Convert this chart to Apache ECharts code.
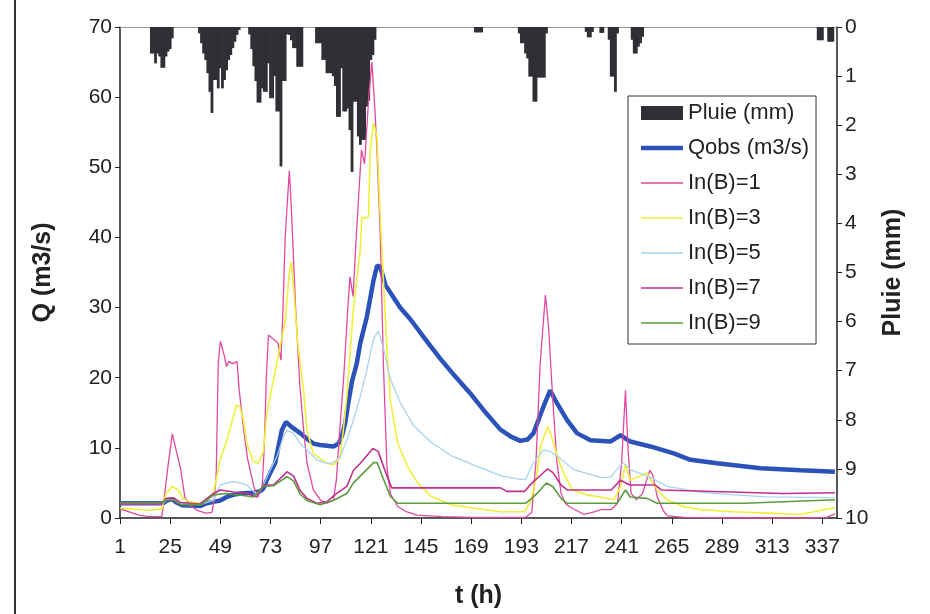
<!DOCTYPE html>
<html>
<head>
<meta charset="utf-8">
<script src="https://cdn.jsdelivr.net/npm/echarts@6/dist/echarts.min.js"></script>
<style>
html,body{margin:0;padding:0;background:#fff;}
#chart{width:930px;height:614px;}
</style>
</head>
<body>
<div id="chart"></div>
<script>
// ---- Data ----
var xTickLabels = [1, 25, 49, 73, 97, 121, 145, 169, 193, 217, 241, 265, 289, 313, 337];

// Rain (mm) per hour: hour index and depth
var rainHours = [
  16,17,18,19,20,21,22,23,24,25,26,
  39,40,41,42,43,44,45,46,47,48,49,50,51,52,53,54,55,56,57,58,
  63,64,65,66,67,68,69,70,71,72,73,74,75,76,77,78,79,80,81,82,83,84,85,86,87,88,
  95,96,97,98,99,100,101,102,103,104,105,106,107,108,109,110,111,112,113,114,115,116,117,118,119,120,121,122,123,
  171,172,173,174,
  192,193,194,195,196,197,198,199,200,201,202,203,204,205,
  224,225,226,227,
  231,232,
  235,236,237,238,239,
  246,247,248,249,250,251,
  335,336,337,340,341,342
];
var rainMm = [
  0.54,0.54,0.74,0.54,0.6,0.83,0.83,0.6,0.5,0.45,0.23,
  0.13,0.33,0.54,0.67,0.94,1.32,1.75,1.08,1.08,1.25,0.84,1.25,1.08,0.88,0.67,0.57,0.43,0.3,0.16,0.06,
  0.15,0.45,0.8,1.1,1.54,1.54,1.25,1.32,1.32,0.74,1.45,1.45,1.0,1.72,1.72,2.84,1.1,1.1,0.15,0.16,0.27,0.43,0.43,0.81,0.81,0.81,
  0.33,0.33,0.33,0.67,0.67,0.94,0.94,0.94,1.0,1.2,1.83,1.83,0.84,1.72,1.72,1.66,2.1,2.95,1.52,1.52,2.23,2.4,2.3,2.3,1.62,1.5,0.67,0.57,0.26,
  0.11,0.11,0.11,0.11,
  0.13,0.33,0.33,0.54,0.64,1.01,1.01,1.52,1.52,1.03,1.03,1.03,1.03,0.13,
  0.1,0.21,0.21,0.1,
  0.12,0.12,
  0.26,1.01,1.01,1.32,0.13,
  0.26,0.54,0.54,0.4,0.33,0.2,
  0.27,0.27,0.27,0.3,0.3,0.3
];

// Observed discharge Qobs (m3/s): [t, Q]
var qobs = [[1,2.1],[21.7,2.1],[23.3,2.5],[26,2.7],[28,2.2],[31,1.8],[39.3,1.7],[42.5,2.1],[45.7,2.3],[48.9,2.5],[52.1,3.0],[55.2,3.3],[58.4,3.5],[64,3.6],[68,3.8],[69.6,4.2],[71.2,5.4],[72.8,6.4],[75.2,7.8],[76.8,10.2],[78.4,12.5],[80.4,13.7],[83,13.0],[87.2,12.1],[90.4,11.3],[93.5,10.6],[96.7,10.4],[103.1,10.2],[105.5,10.6],[107.1,11.6],[108.7,13.5],[110,16],[112,19.5],[114.3,22.1],[116,25],[119.1,28.7],[122.3,33.9],[124,36],[125.5,35.8],[128,33.2],[135,30.0],[140,28.3],[147,25.5],[154,22.8],[161,20.3],[168.5,17.8],[176,15.0],[183,12.6],[188,11.6],[192.5,11.0],[196,11.2],[198.8,12.1],[203.6,15.9],[206.8,18.2],[209.2,16.8],[214.8,14.0],[219.6,12.1],[226,11.1],[235.6,10.9],[240.4,11.8],[245.1,10.9],[254.7,10.2],[265.9,9.2],[273.9,8.3],[286.6,7.8],[307.4,7.1],[326.6,6.8],[343,6.6]];

// Simulated discharges
var lnB1 = [[1,1.3],[5,0.9],[10,0.4],[15,0.2],[21,0.2],[22,2.5],[24,7.5],[26,12],[28,9.5],[30,7],[32,3],[34,1.9],[38,1.1],[42,0.7],[45,0.8],[46,2.5],[47,6],[48,22],[49,25.2],[51,23],[52,21.6],[53,22.3],[55,22],[57,22.3],[58,18.3],[60,13],[62,8.5],[65,4.5],[67,3],[69,4.5],[70,10],[71,20],[72,26.1],[74,25.6],[76.5,25],[78,22.5],[79,30],[80,40],[82,49.5],[83,44],[85,30],[87,19],[89,12],[90.5,7.8],[93.5,4],[97,2.5],[100,2.1],[103,2.5],[104.5,5.4],[106,12],[108,20],[110,30],[111,34.4],[112.5,31.6],[114,40],[116.5,52.5],[118,50.5],[120,60],[121.5,65],[123,58],[124,52],[125.5,40.5],[127,22],[128.7,7.3],[130.3,3.5],[132,2.6],[134,1.6],[138,0.9],[143,0.4],[155,0.2],[170,0.1],[195,0.1],[198,0.8],[200,8],[202,22],[204.5,31.8],[206,27.3],[208,17],[210,8],[212,3.5],[214,2.1],[216,1.6],[223,0.5],[227,0.8],[231,1.2],[236,1.2],[239,2.1],[241,8],[242.8,18.2],[244,10],[245.5,3.5],[248,2.6],[251,3.5],[253,5.5],[254.5,6.8],[256,6],[258,3],[261,1.0],[263,0.3],[271,0.1],[300,0],[330,0],[339,0.1],[343,0.6]];

var lnB3 = [[1,1.4],[15,1.1],[21,1.3],[23,3.5],[26,4.5],[29,4],[31,2.8],[34.5,2.3],[39,2.1],[42.5,2.5],[45.7,3.5],[48.9,8.3],[52.1,11.1],[55.2,14.4],[56.8,16.1],[58.4,15.8],[60,14],[61.6,10.6],[64.8,8.1],[67.2,7.8],[69.6,9.5],[71.2,14.9],[74.4,19.7],[77.6,24.5],[80,28],[82,35],[83,36.5],[84,33],[86,25],[88.8,18.3],[90.4,12.5],[93.5,9.2],[99.9,7.8],[103.1,7.6],[106.3,8.6],[108,13],[109.5,17.3],[112.7,30],[115.9,38],[116.7,42.9],[118.3,42.7],[119.9,43],[120.7,52.5],[122.3,56.3],[123.9,54.5],[125.5,42.9],[127.1,33.4],[128.7,24],[130.3,16.9],[133.8,10.7],[138.6,7.3],[143.4,5],[149.8,3.1],[159.4,1.9],[170.6,1.4],[183.4,0.9],[194.6,0.9],[197.8,2.6],[200.5,6.4],[202.1,10.2],[205.5,13],[207,12],[210,9],[213.2,6.4],[217.5,4],[224,3.3],[230.7,3],[237.2,2.6],[240.4,4.4],[242.8,7.6],[245.1,5.4],[250,6],[253.1,6.4],[257.9,4],[262.7,2.6],[270.7,1.6],[278.6,1.2],[294.6,0.9],[310.6,0.7],[326.5,0.5],[343,1.5]];

var lnB5 = [[1,2],[21,2],[23,2.5],[26.5,2.8],[29.7,2.1],[39.3,1.9],[45.7,2.5],[48.9,4.7],[52.1,5],[55.2,5.2],[58.4,5],[61.6,4.7],[64.8,3.8],[67.2,3.3],[69.6,4.7],[72.8,6.8],[76,8.7],[79.2,11.6],[80.8,12.5],[84,12.1],[87.2,10.6],[90.4,9.7],[95.2,8.3],[99.9,7.8],[103.1,7.9],[106.3,8.7],[109.5,11.1],[112.7,14],[115.9,17.3],[119,21],[122.3,25.5],[124.5,26.7],[127.1,24.1],[130.3,19.8],[135,16.5],[141.4,13.2],[149.8,10.8],[159.4,8.9],[170.6,7.5],[183.4,6.0],[192.5,5.5],[195,5.5],[198.8,7.9],[203.6,9.7],[206.8,9.5],[211.6,8.5],[218,6.9],[230.7,5.8],[235.6,5.8],[241.6,7.9],[245.1,6.9],[254.7,5.8],[262.7,4.5],[278.6,3.7],[294.6,3.3],[310.6,3.0],[343,2.9]];

var lnB7 = [[1,2.0],[21,2.0],[23,2.8],[27,2.8],[30,2.2],[39.3,2.0],[45.7,3.5],[48.9,4.0],[55.2,3.7],[61.6,3.5],[66.4,3.0],[69.6,4.7],[74.4,4.7],[79,6],[80.8,6.6],[84,6],[87,4],[90.4,2.8],[95.2,2.1],[99.9,2.3],[104.7,3.5],[109.5,4.5],[112.7,6.8],[116,7.8],[122,9.9],[124.5,9.5],[128.7,6],[131,4.3],[183,4.3],[186,3.8],[194.6,3.8],[197.8,4.9],[202.6,6.2],[205.5,7],[208,6.5],[212,4.7],[215,4.0],[236,4.0],[240.4,5.4],[243,5.0],[245,4.7],[257,4.7],[260,4.0],[318,3.5],[343,3.6]];

var lnB9 = [[1,2.2],[21,2.2],[23,2.6],[27,2.5],[30,1.9],[40,1.9],[45.7,3.3],[52,3.5],[60,3.2],[64.8,3.0],[69.6,4.5],[74.4,4.6],[79,5.5],[80.8,5.9],[84,5.3],[87,3.5],[90.4,2.5],[96.7,1.9],[103,2.5],[109.5,3.5],[112.7,5],[116,6.0],[122.3,7.9],[124,7.9],[127.1,5.5],[130.3,3.1],[133.8,2.1],[195,2.1],[198,2.8],[200.5,3.5],[205,5.0],[208,4.5],[212,2.8],[214.8,2.1],[238.8,2.1],[242.8,4.0],[245.1,3.0],[253.1,2.8],[257.9,2.1],[300,2.1],[343,2.6]];

// ---- Chart ----
var FONT = 'Liberation Sans, Arial, sans-serif';
var rainData = rainHours.map(function (h, i) { return [h, rainMm[i]]; });

var THIN_ICON = 'path://M0,0h0.01v0.01h-0.01z M0,6.3h42v1.4h-42z M41.99,13.99h0.01v0.01h-0.01z';
var THICK_ICON = 'path://M0,0h0.01v0.01h-0.01z M0,4.8h42v4.4h-42z M41.99,13.99h0.01v0.01h-0.01z';

function lineSeries(name, data, color, width, z) {
  return {
    name: name, type: 'line', data: data, xAxisIndex: 0, yAxisIndex: 0,
    symbol: 'none', showSymbol: false, smooth: false, z: z,
    lineStyle: { color: color, width: width },
    itemStyle: { color: color, borderWidth: 0 },
    emphasis: { disabled: true }
  };
}

var chart = echarts.init(document.getElementById('chart'), null, { renderer: 'canvas' });
chart.setOption({
  animation: false,
  backgroundColor: '#ffffff',
  textStyle: { fontFamily: FONT },
  grid: { left: 120, right: 93, top: 27, bottom: 96, containLabel: false },
  legend: {
    orient: 'vertical', left: 628, top: 96,
    padding: [6, 7, 10, 13],
    borderColor: '#333', borderWidth: 1, backgroundColor: '#fff',
    itemWidth: 42, itemHeight: 14, itemGap: 13,
    itemStyle: { borderWidth: 0 },
    textStyle: { fontSize: 22, color: '#222', fontFamily: FONT, lineHeight: 22 },
    data: [
      { name: 'Pluie (mm)', icon: 'rect' },
      { name: 'Qobs (m3/s)', icon: THICK_ICON },
      { name: 'In(B)=1', icon: THIN_ICON },
      { name: 'In(B)=3', icon: THIN_ICON },
      { name: 'In(B)=5', icon: THIN_ICON },
      { name: 'In(B)=7', icon: THIN_ICON },
      { name: 'In(B)=9', icon: THIN_ICON }
    ]
  },
  xAxis: [
    {
      type: 'value', min: 1, max: 344, position: 'bottom',
      name: 't (h)', nameLocation: 'middle', nameGap: 66,
      nameTextStyle: { fontSize: 25, fontWeight: 'bold', color: '#222', fontFamily: FONT },
      axisLine: { lineStyle: { color: '#222', width: 1.5 } },
      axisTick: { show: true, length: 6, customValues: xTickLabels, lineStyle: { color: '#222' } },
      axisLabel: { customValues: xTickLabels, fontSize: 21, color: '#222', margin: 19, fontFamily: FONT },
      splitLine: { show: false }
    },
    {
      type: 'value', min: 1, max: 344, position: 'top',
      axisLine: { show: true, lineStyle: { color: '#999', width: 1 } },
      axisTick: { show: false }, axisLabel: { show: false }, splitLine: { show: false }
    }
  ],
  yAxis: [
    {
      type: 'value', min: 0, max: 70, interval: 10, position: 'left',
      name: 'Q (m3/s)', nameLocation: 'middle', nameGap: 64, nameRotate: 90,
      nameTextStyle: { fontSize: 25, fontWeight: 'bold', color: '#222', fontFamily: FONT },
      axisLine: { show: true, lineStyle: { color: '#222', width: 1.5 } },
      axisTick: { show: true, length: 5, lineStyle: { color: '#222' } },
      axisLabel: { fontSize: 21, color: '#222', margin: 8, fontFamily: FONT },
      splitLine: { show: false }
    },
    {
      type: 'value', min: 0, max: 10, interval: 1, position: 'right', inverse: true,
      name: 'Pluie (mm)', nameLocation: 'middle', nameGap: 44, nameRotate: 90,
      nameTextStyle: { fontSize: 25, fontWeight: 'bold', color: '#222', fontFamily: FONT },
      axisLine: { show: true, lineStyle: { color: '#222', width: 1.5 } },
      axisTick: { show: true, length: 5, lineStyle: { color: '#222' } },
      axisLabel: { fontSize: 21, color: '#222', margin: 8, fontFamily: FONT },
      splitLine: { show: false }
    }
  ],
  series: [
    {
      name: 'Pluie (mm)', type: 'bar', data: rainData, xAxisIndex: 0, yAxisIndex: 1,
      barWidth: 2.8, z: 1,
      itemStyle: { color: '#2f2f35' },
      emphasis: { disabled: true }
    },
    lineSeries('Qobs (m3/s)', qobs, '#2a52b8', 4.5, 3),
    lineSeries('In(B)=1', lnB1, '#e2489f', 1.3, 4),
    lineSeries('In(B)=3', lnB3, '#f0ee3a', 1.6, 4),
    lineSeries('In(B)=5', lnB5, '#a9d3ee', 1.3, 4),
    lineSeries('In(B)=7', lnB7, '#c0308c', 1.6, 4),
    lineSeries('In(B)=9', lnB9, '#5e9a3e', 1.6, 4)
  ],
  graphic: [
    { type: 'line', shape: { x1: 15, y1: 0, x2: 15, y2: 614 }, style: { stroke: '#333', lineWidth: 2 } }
  ]
});
</script>
</body>
</html>
